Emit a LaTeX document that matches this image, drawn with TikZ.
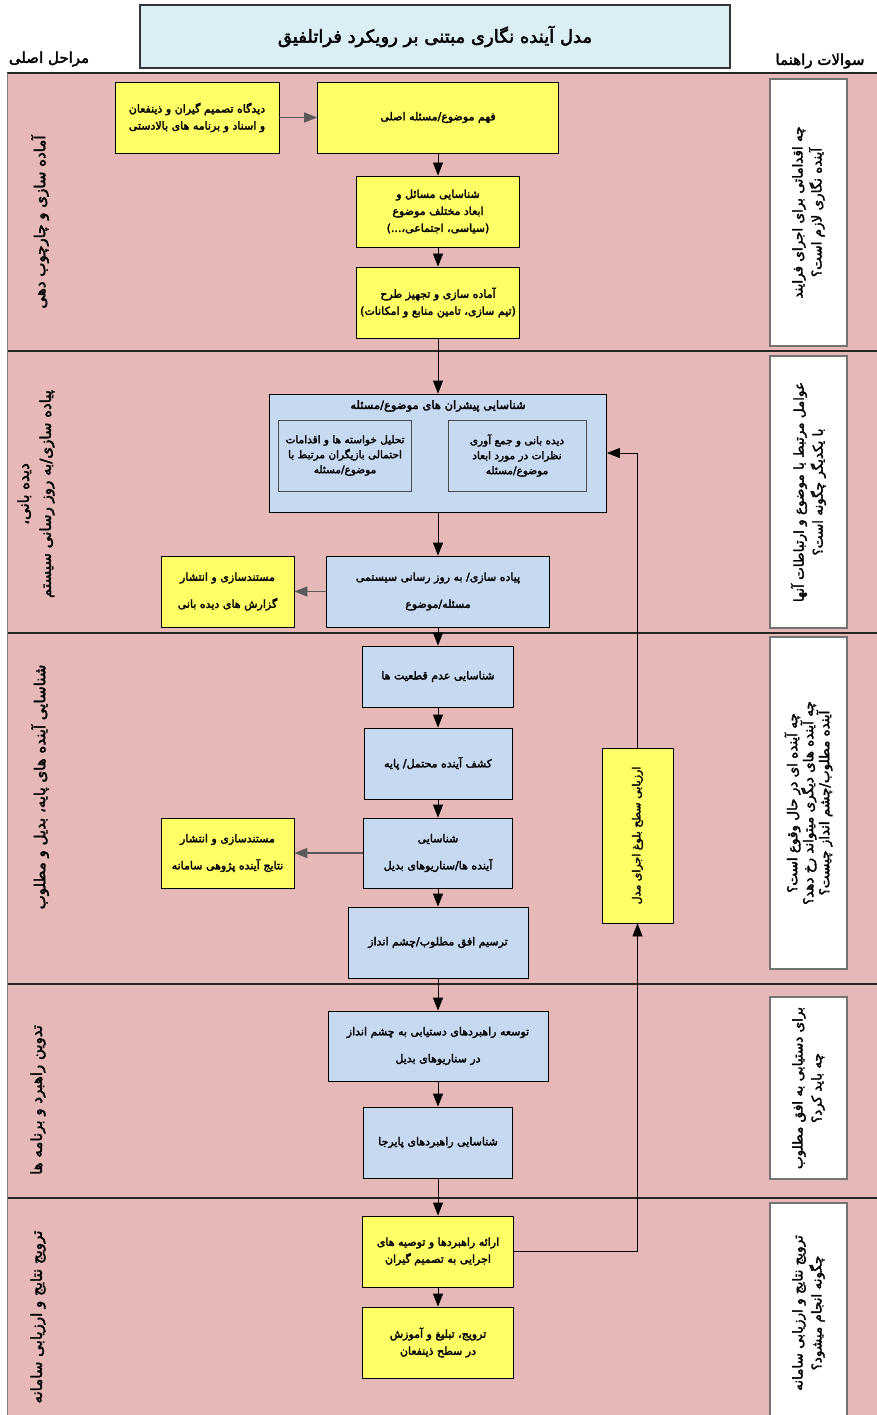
\documentclass[tikz,border=0pt]{standalone}
\usepackage{fontspec}
\newfontfamily\fa[Script=Arabic,FakeBold=2.5]{DejaVu Sans}
\TeXXeTstate=1
\newcommand\rl[1]{\beginR #1\endR}
\usetikzlibrary{arrows.meta, positioning}
\definecolor{lanepink}{HTML}{E6B9B8}
\definecolor{boxyellow}{HTML}{FFFF66}
\definecolor{boxblue}{HTML}{C6D9F1}
\definecolor{titleblue}{HTML}{DBEEF4}
\tikzset{
  yellowbox/.style={draw=black, fill=boxyellow, align=center, inner sep=2pt, font=\fa\fontsize{11}{17}\selectfont},
  bluebox/.style={draw=black, fill=boxblue, align=center, inner sep=2pt, font=\fa\fontsize{11}{17}\selectfont},
  innerbox/.style={draw=black!70, fill=boxblue, align=center, inner sep=2pt, font=\fa\fontsize{10.5}{15}\selectfont},
  qbox/.style={draw=black!55, line width=1.5pt, fill=white, rotate=90, align=center, font=\fa\fontsize{13.5}{19}\selectfont},
  lanelabel/.style={rotate=90, align=center, font=\fa\fontsize{15}{22}\selectfont},
  laneline/.style={draw=black!85, line width=1.5pt},
  sidearrow/.style={draw=black!65, line width=1.5pt}
}
\begin{document}
\begin{tikzpicture}[x=1pt, y=-1pt, >={Triangle[length=13pt,width=10pt]}, line width=0.8pt]
\useasboundingbox (0,0) rectangle (877,1415);
\fill[lanepink] (7,73) rectangle (877,1415);
\foreach \y in {73,351,633,984,1198} \draw[laneline] (7,\y) -- (877,\y);
\draw[black!50, line width=1pt] (7,73) -- (7,1415);

\node[draw=black!80, line width=1.2pt, fill=titleblue, minimum width=590pt, minimum height=63pt, font=\fa\fontsize{18}{22}\selectfont] (title) at (435,36.5) {\rl{مدل آینده نگاری مبتنی بر رویکرد فراتلفیق}};
\node[font=\fa\fontsize{15}{18}\selectfont] (stageshead) at (49,59) {\rl{مراحل اصلی}};
\node[font=\fa\fontsize{15}{18}\selectfont] (questionshead) at (820,61) {\rl{سوالات راهنما}};

\node[lanelabel] (lane1) at (40,222) {\rl{آماده سازی و چارچوب دهی}};
\node[lanelabel] (lane2) at (36,494) {\rl{دیده بانی،}\\\rl{پیاده سازی/به روز رسانی سیستم}};
\node[lanelabel] (lane3) at (40,787) {\rl{شناسایی آینده های پایه، بدیل و مطلوب}};
\node[lanelabel] (lane4) at (38,1100) {\rl{تدوین راهبرد و برنامه ها}};
\node[lanelabel] (lane5) at (38,1317) {\rl{ترویج نتایج و ارزیابی سامانه}};

\node[qbox, minimum width=267pt, minimum height=77pt] (q1) at (808.5,212.5) {\rl{چه اقداماتی برای اجرای فرایند}\\\rl{آینده نگاری لازم است؟}};
\node[qbox, minimum width=272pt, minimum height=77pt] (q2) at (808.5,492) {\rl{عوامل مرتبط با موضوع و ارتباطات آنها}\\\rl{با یکدیگر چگونه است؟}};
\node[qbox, minimum width=332pt, minimum height=77pt, font=\fa\fontsize{13.5}{16}\selectfont] (q3) at (808.5,803) {\rl{چه آینده ای در حال وقوع است؟}\\\rl{چه آینده های دیگری میتواند رخ دهد؟}\\\rl{آینده مطلوب/چشم انداز چیست؟}};
\node[qbox, minimum width=182pt, minimum height=77pt] (q4) at (808.5,1088) {\rl{برای دستیابی به افق مطلوب}\\\rl{چه باید کرد؟}};
\node[qbox, minimum width=220pt, minimum height=77pt] (q5) at (808.5,1313) {\rl{ترویج نتایج و ارزیابی سامانه}\\\rl{چگونه انجام میشود؟}};

\node[yellowbox, minimum width=164pt, minimum height=71pt] (upstream) at (197,117.5) {\rl{دیدگاه تصمیم گیران و ذینفعان}\\\rl{و اسناد و برنامه های بالادستی}};
\node[yellowbox, minimum width=241pt, minimum height=71pt] (topic) at (438,117.5) {\rl{فهم موضوع/مسئله اصلی}};
\node[yellowbox, minimum width=163pt, minimum height=71pt] (issues) at (438,211.5) {\rl{شناسایی مسائل و}\\\rl{ابعاد مختلف موضوع}\\\rl{(سیاسی، اجتماعی،...)}};
\node[yellowbox, minimum width=163pt, minimum height=71pt] (prep) at (438,302.5) {\rl{آماده سازی و تجهیز طرح}\\\rl{(تیم سازی، تامین منابع و امکانات)}};

\node[bluebox, minimum width=337pt, minimum height=118pt] (drivers) at (438,453) {};
\node[font=\fa\fontsize{11.5}{14}\selectfont] (driverstitle) at (438,406) {\rl{شناسایی پیشران های موضوع/مسئله}};
\node[innerbox, minimum width=133pt, minimum height=71pt] (actors) at (345,455.5) {\rl{تحلیل خواسته ها و اقدامات}\\\rl{احتمالی بازیگران مرتبط با}\\\rl{موضوع/مسئله}};
\node[innerbox, minimum width=138pt, minimum height=71pt] (scanning) at (517,455.5) {\rl{دیده بانی و جمع آوری}\\\rl{نظرات در مورد ابعاد}\\\rl{موضوع/مسئله}};
\node[bluebox, minimum width=223pt, minimum height=71pt] (update) at (438,591.5) {\rl{پیاده سازی/ به روز رسانی سیستمی}\\[10pt]\rl{مسئله/موضوع}};
\node[yellowbox, minimum width=133pt, minimum height=71pt] (report1) at (227.5,591.5) {\rl{مستندسازی و انتشار}\\[10pt]\rl{گزارش های دیده بانی}};

\node[bluebox, minimum width=151pt, minimum height=61pt] (uncert) at (438,676.5) {\rl{شناسایی عدم قطعیت ها}};
\node[bluebox, minimum width=148pt, minimum height=71pt] (probable) at (438,763.5) {\rl{کشف آینده محتمل/ پایه}};
\node[bluebox, minimum width=149pt, minimum height=70pt] (alts) at (438,853) {\rl{شناسایی}\\[10pt]\rl{آینده ها/سناریوهای بدیل}};
\node[yellowbox, minimum width=133pt, minimum height=70pt] (report2) at (227.5,853) {\rl{مستندسازی و انتشار}\\[10pt]\rl{نتایج آینده پژوهی سامانه}};
\node[bluebox, minimum width=180pt, minimum height=71pt] (vision) at (438,942.5) {\rl{ترسیم افق مطلوب/چشم انداز}};
\node[yellowbox, rotate=90, minimum width=175pt, minimum height=71pt] (maturity) at (637.5,835.5) {\rl{ارزیابی سطح بلوغ اجرای مدل}};

\node[bluebox, minimum width=220pt, minimum height=70pt] (strat) at (438,1046) {\rl{توسعه راهبردهای دستیابی به چشم انداز}\\[10pt]\rl{در سناریوهای بدیل}};
\node[bluebox, minimum width=149pt, minimum height=71pt] (robust) at (438,1142.5) {\rl{شناسایی راهبردهای پایرجا}};
\node[yellowbox, minimum width=151pt, minimum height=71pt] (advice) at (438,1251.5) {\rl{ارائه راهبردها و توصیه های}\\\rl{اجرایی به تصمیم گیران}};
\node[yellowbox, minimum width=151pt, minimum height=71pt] (promote) at (438,1342.5) {\rl{ترویج، تبلیغ و آموزش}\\\rl{در سطح ذینفعان}};

\draw[->, sidearrow] (upstream) -- (topic);
\draw[->] (topic) -- (issues);
\draw[->] (issues) -- (prep);
\draw[->] (prep) -- (drivers);
\draw[->] (drivers) -- (update);
\draw[->, sidearrow] (update) -- (report1);
\draw[->] (update) -- (uncert);
\draw[->] (uncert) -- (probable);
\draw[->] (probable) -- (alts);
\draw[->, sidearrow] (alts) -- (report2);
\draw[->] (alts) -- (vision);
\draw[->] (vision) -- (strat);
\draw[->] (strat) -- (robust);
\draw[->] (robust) -- (advice);
\draw[->] (advice) -- (promote);
\draw[->] (advice) -| (maturity);
\draw[->] (maturity) |- (drivers);
\end{tikzpicture}
\end{document}
